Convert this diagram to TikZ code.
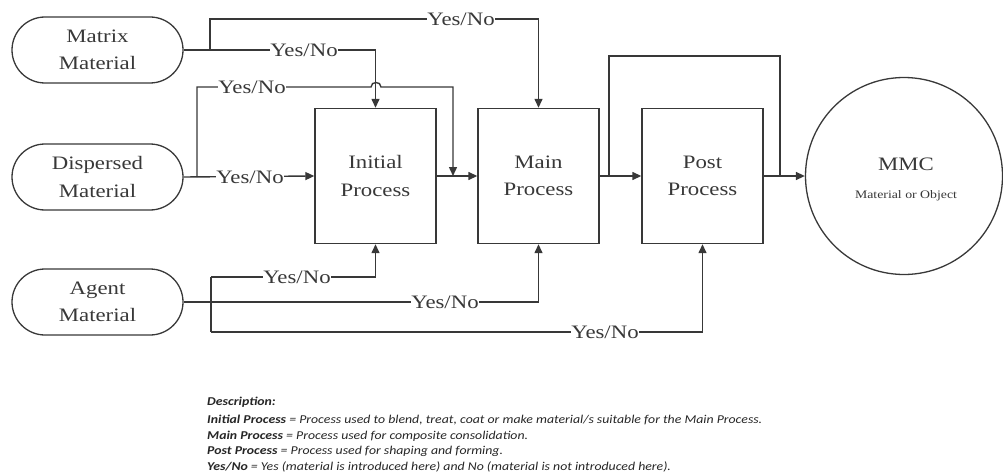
\documentclass[tikz,border=0pt]{standalone}
\usepackage{fontspec}
\setmainfont{Liberation Serif}
\newfontfamily\diagfont[FakeStretch=1.2]{Liberation Serif}
\newfontfamily\descfont[FakeStretch=1.15]{Carlito}
\usetikzlibrary{arrows.meta,shapes.misc}
\begin{document}
\begin{tikzpicture}[x=1pt,y=-1pt,
  line/.style={draw=black!78, line width=1.4pt},
  arr/.style={line, -{Triangle[length=9pt,width=8pt]}},
  bigtext/.style={font=\diagfont\fontsize{19}{27.5}\selectfont, text=black!78},
  pill/.style={bigtext, draw=black!78, line width=1.3pt, rounded rectangle, minimum width=171pt, minimum height=66pt, align=center, inner sep=0pt},
  proc/.style={bigtext, draw=black!78, line width=1.4pt, minimum width=121pt, minimum height=135pt, align=center, inner sep=0pt},
  yn/.style={bigtext, fill=white, inner sep=0.6pt},
  desc/.style={anchor=west, inner sep=0pt, font=\descfont\fontsize{12}{13}\selectfont, text=black!85}
]
\useasboundingbox (0,0) rectangle (1003,476);

% material nodes
\node[pill] (matrix) at (97.5,50) {Matrix\\Material};
\node[pill] (disp) at (97.5,177) {Dispersed\\Material};
\node[pill] (agent) at (97.5,302) {Agent\\Material};

% process nodes
\node[proc] (init) at (375.5,176) {Initial\\Process};
\node[proc] (main) at (538.5,176) {Main\\Process};
\node[proc] (post) at (702.5,176) {Post\\Process};
\node[circle, draw=black!78, line width=1.3pt, minimum size=197pt, inner sep=0pt] (mmc) at (904,176) {};
\node[bigtext, anchor=base] (mmct) at (906,170) {MMC};
\node[font=\diagfont\fontsize{11.5}{13}\selectfont, text=black!78, anchor=base] (mmcs) at (906,198) {Material or Object};

% junction coordinates
\coordinate (mj) at (210,50);
\coordinate (mt) at (210,19);
\coordinate (dj) at (197,177);
\coordinate (dt) at (197,87);
\coordinate (hopa) at (371,87);
\coordinate (hopb) at (381,87);
\coordinate (dr) at (453,87);
\coordinate (dd) at (453,176);
\coordinate (aj) at (211,302);
\coordinate (at) at (211,277);
\coordinate (ab) at (211,332);
\coordinate (bp1) at (609,176);
\coordinate (bp2) at (780,176);

% matrix connectors
\draw[line] (matrix.east) -- (mj);
\draw[arr] (mj) -- (mt) -| (main.north);
\draw[arr] (mj) -| (init.north);

% dispersed connectors
\draw[arr] (disp.east) -- (init.west);
\draw[arr] (dj) |- (hopa) .. controls (371,81) and (381,81) .. (hopb) -- (dr) -- (dd);

% process chain
\draw[arr] (init.east) -- (main.west);
\draw[arr] (main.east) -- (post.west);
\draw[arr] (post.east) -- (mmc.west);
\draw[line] (bp1) |- (780,56) -- (bp2);

% agent connectors
\draw[arr] (agent.east) -| (main.south);
\draw[line] (at) -- (ab);
\draw[arr] (at) -| (init.south);
\draw[arr] (ab) -| (post.south);

% Yes/No labels
\node[yn] (l1) at (461,19) {Yes/No};
\node[yn] (l2) at (304,50) {Yes/No};
\node[yn] (l3) at (252,87) {Yes/No};
\node[yn] (l4) at (250,177) {Yes/No};
\node[yn] (l5) at (297,277) {Yes/No};
\node[yn] (l6) at (445,302) {Yes/No};
\node[yn] (l7) at (605,332) {Yes/No};

% description
\node[desc] (d0) at (207,402) {\textbf{\textit{Description:}}};
\node[desc] (d1) at (207,420) {\textbf{\textit{Initial Process}} \textit{= Process used to blend, treat, coat or make material/s suitable for the Main Process.}};
\node[desc] (d2) at (207,436) {\textbf{\textit{Main Process}} \textit{= Process used for composite consolidation.}};
\node[desc] (d3) at (207,451) {\textbf{\textit{Post Process}} \textit{= Process used for shaping and forming.}};
\node[desc] (d4) at (207,467) {\textbf{\textit{Yes/No}} \textit{= Yes (material is introduced here) and No (material is not introduced here).}};
\end{tikzpicture}
\end{document}
